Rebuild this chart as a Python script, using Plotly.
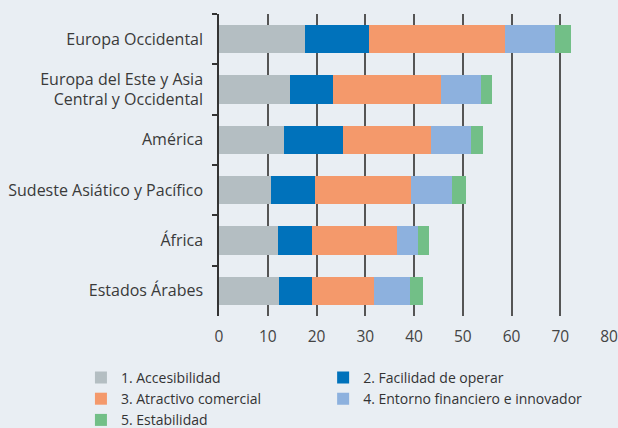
import plotly.graph_objects as go

categories = [
    "Europa Occidental",
    "Europa del Este y Asia<br>Central y Occidental",
    "América",
    "Sudeste Asiático y Pacífico",
    "África",
    "Estados Árabes",
]

series_names = [
    "1. Accesibilidad",
    "2. Facilidad de operar",
    "3. Atractivo comercial",
    "4. Entorno financiero e innovador",
    "5. Estabilidad",
]

accesibilidad = [17.7, 14.5, 13.3, 10.7, 12.1, 12.4]
facilidad = [13.1, 8.9, 12.2, 9.0, 7.0, 6.6]
atractivo = [27.8, 22.2, 18.0, 19.7, 17.4, 12.8]
entorno = [10.4, 8.1, 8.2, 8.3, 4.4, 7.4]
estabilidad = [3.2, 2.4, 2.5, 2.9, 2.2, 2.6]

x_ticks = [0, 10, 20, 30, 40, 50, 60, 70, 80]

series_values = [accesibilidad, facilidad, atractivo, entorno, estabilidad]
colors = ["#b4bec2", "#0072bb", "#f4996b", "#8db1de", "#72bf87"]
legend_ids = ["legend", "legend2", "legend", "legend2", "legend"]

fig = go.Figure()
for name, vals, col, lg in zip(series_names, series_values, colors, legend_ids):
    fig.add_trace(go.Bar(
        y=categories, x=vals, name=name, orientation="h",
        marker=dict(color=col, line=dict(width=0)),
        legend=lg,
    ))

bg = "#e9eef3"
legend_common = dict(
    orientation="v",
    xanchor="left", yanchor="top",
    font=dict(size=14, color="#333333"),
    traceorder="normal",
    bgcolor="rgba(0,0,0,0)",
)
fig.update_layout(
    barmode="stack",
    bargap=0.44,
    width=618, height=428,
    paper_bgcolor=bg, plot_bgcolor=bg,
    margin=dict(l=219, r=9, t=14, b=112, autoexpand=False),
    font=dict(family="Open Sans", size=16, color="#3a3a3a"),
    legend=dict(x=-0.354, y=-0.152, **legend_common),
    legend2=dict(x=0.267, y=-0.152, **legend_common),
    showlegend=True,
)
fig.update_xaxes(
    range=[0, 80], tickvals=x_ticks,
    showgrid=True, gridcolor="#555555", gridwidth=1.5,
    zeroline=False, showline=False,
    ticks="", ticklabelstandoff=9,
    tickfont=dict(size=15.5, color="#444444"),
)
fig.update_yaxes(
    autorange="reversed",
    showline=True, linecolor="#333333", linewidth=1.5,
    ticks="outside", tickson="boundaries", ticklen=5, tickwidth=1.5, tickcolor="#333333",
    showgrid=False,
    ticklabelstandoff=11,
    tickfont=dict(size=16, color="#3a3a3a"),
)

fig.write_html(
    "out.html",
    config={"displayModeBar": False},
    post_script="document.body.style.margin='0';document.body.style.background='%s';" % bg,
)
